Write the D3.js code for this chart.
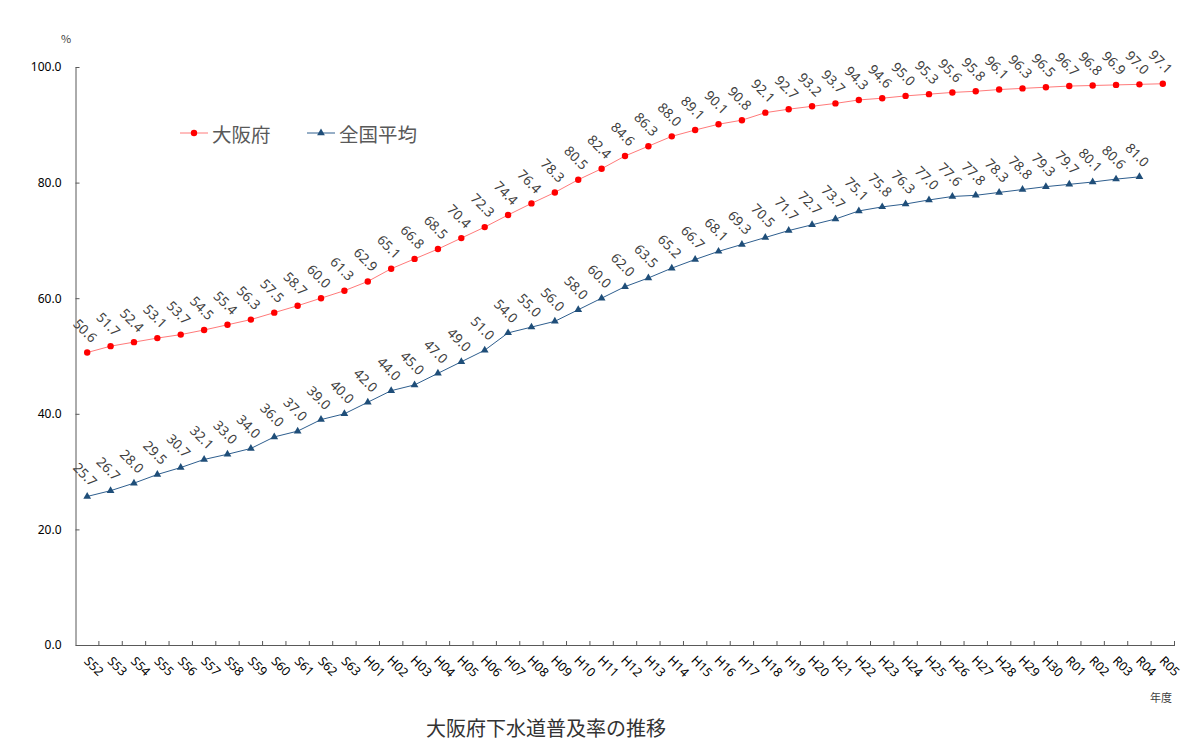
<!DOCTYPE html>
<html><head><meta charset="utf-8">
<script src="https://cdn.jsdelivr.net/npm/d3@7/dist/d3.min.js"></script>
<style>body{margin:0;background:#fff;}svg{display:block;font-family:"Noto Sans CJK JP","Noto Sans",sans-serif;}</style>
</head><body><svg id="c" width="1200" height="754"></svg>
<script>
const categories = ["S52","S53","S54","S55","S56","S57","S58","S59","S60","S61","S62","S63",
"H01","H02","H03","H04","H05","H06","H07","H08","H09","H10","H11","H12","H13","H14","H15","H16","H17","H18","H19","H20","H21","H22","H23","H24","H25","H26","H27","H28","H29","H30",
"R01","R02","R03","R04","R05"];
const osaka = [50.6,51.7,52.4,53.1,53.7,54.5,55.4,56.3,57.5,58.7,60.0,61.3,
62.9,65.1,66.8,68.5,70.4,72.3,74.4,76.4,78.3,80.5,82.4,84.6,86.3,88.0,89.1,90.1,90.8,92.1,92.7,93.2,93.7,94.3,94.6,95.0,95.3,95.6,95.8,96.1,96.3,96.5,
96.7,96.8,96.9,97.0,97.1];
const national = [25.7,26.7,28.0,29.5,30.7,32.1,33.0,34.0,36.0,37.0,39.0,40.0,
42.0,44.0,45.0,47.0,49.0,51.0,54.0,55.0,56.0,58.0,60.0,62.0,63.5,65.2,66.7,68.1,69.3,70.5,71.7,72.7,73.7,75.1,75.8,76.3,77.0,77.6,77.8,78.3,78.8,79.3,
79.7,80.1,80.6,81.0,null];
const yTicks = [0,20,40,60,80,100];
const seriesNames = ["大阪府","全国平均"];

const svg = d3.select("#c");
const L=75.5, R=1174.5, T=67, B=645;
const x = d3.scaleBand().domain(categories).range([L,R]).padding(0);
const y = d3.scaleLinear().domain([0,100]).range([B,T]);
const cx = d => x(d)+x.bandwidth()/2;
const numFont = "Noto Sans, sans-serif";

// Y axis
const ya = svg.append("g").attr("transform",`translate(${L},0)`)
  .call(d3.axisLeft(y).tickValues(yTicks).tickFormat(d3.format(".1f")).tickSizeInner(-4).tickSizeOuter(0));
ya.select(".domain").attr("stroke","#595959");
ya.selectAll(".tick line").attr("stroke","#595959");
ya.selectAll(".tick text").attr("x",-14).attr("font-size",12).attr("fill","#000").attr("font-family",numFont);

// X axis
const xa = svg.append("g").attr("transform",`translate(0,${B})`)
  .call(d3.axisBottom(x).tickSize(0).tickFormat(""));
xa.select(".domain").attr("stroke","#595959");
svg.append("g").selectAll("line").data(categories).join("line")
  .attr("x1",d=>x(d)+x.bandwidth()).attr("x2",d=>x(d)+x.bandwidth())
  .attr("y1",B).attr("y2",B-4).attr("stroke","#595959");
svg.append("g").selectAll("text").data(categories).join("text")
  .attr("transform",d=>`translate(${cx(d)+6},${B+22}) rotate(45)`)
  .attr("text-anchor","middle").attr("dominant-baseline","middle")
  .attr("font-size",12.5).attr("fill","#000").attr("font-family",numFont)
  .text(d=>d);

// Lines
const lineGen = d3.line().x(d=>cx(d[0])).y(d=>y(d[1]));
const oData = categories.map((c,i)=>[c,osaka[i]]);
const nData = categories.map((c,i)=>[c,national[i]]).filter(d=>d[1]!=null);
svg.append("path").attr("d",lineGen(oData)).attr("fill","none").attr("stroke","#ff7a7a").attr("stroke-width",1);
svg.append("path").attr("d",lineGen(nData)).attr("fill","none").attr("stroke","#2e5e8e").attr("stroke-width",1);

svg.append("g").selectAll("circle").data(oData).join("circle")
  .attr("cx",d=>cx(d[0])).attr("cy",d=>y(d[1])).attr("r",3.2).attr("fill","#ff0000");
const tri = d3.symbol().type(d3.symbolTriangle).size(26);
svg.append("g").selectAll("path").data(nData).join("path")
  .attr("d",tri).attr("transform",d=>`translate(${cx(d[0])},${y(d[1])})`).attr("fill","#1f4e79");

// Data labels
function labels(data){
  svg.append("g").selectAll("text").data(data).join("text")
    .attr("transform",d=>`translate(${cx(d[0])-3},${y(d[1])-21}) rotate(45)`)
    .attr("text-anchor","middle").attr("dominant-baseline","middle")
    .attr("font-size",13.5).attr("fill","#404040").attr("font-family",numFont)
    .text(d=>d[1].toFixed(1));
}
labels(oData); labels(nData);

// Legend
const lg = svg.append("g");
lg.append("line").attr("x1",180).attr("x2",208).attr("y1",133).attr("y2",133).attr("stroke","#ff7a7a");
lg.append("circle").attr("cx",194).attr("cy",133).attr("r",3.2).attr("fill","#ff0000");
lg.append("text").attr("x",212).attr("y",133).attr("dominant-baseline","central").attr("font-size",19.5).attr("fill","#595959").text(seriesNames[0]);
lg.append("line").attr("x1",307).attr("x2",335).attr("y1",133).attr("y2",133).attr("stroke","#2e5e8e");
lg.append("path").attr("d",tri).attr("transform","translate(321,133)").attr("fill","#1f4e79");
lg.append("text").attr("x",339).attr("y",133).attr("dominant-baseline","central").attr("font-size",19.5).attr("fill","#595959").text(seriesNames[1]);

// Units & title
svg.append("text").attr("x",66).attr("y",40).attr("text-anchor","middle").attr("dominant-baseline","middle").attr("font-size",11).attr("fill","#404040").text("%");
svg.append("text").attr("x",1161).attr("y",699).attr("text-anchor","middle").attr("dominant-baseline","middle").attr("font-size",11).attr("fill","#404040").text("年度");
svg.append("text").attr("x",546).attr("y",731).attr("text-anchor","middle").attr("dominant-baseline","middle").attr("font-size",20).attr("fill","#333").text("大阪府下水道普及率の推移");
</script></body></html>
